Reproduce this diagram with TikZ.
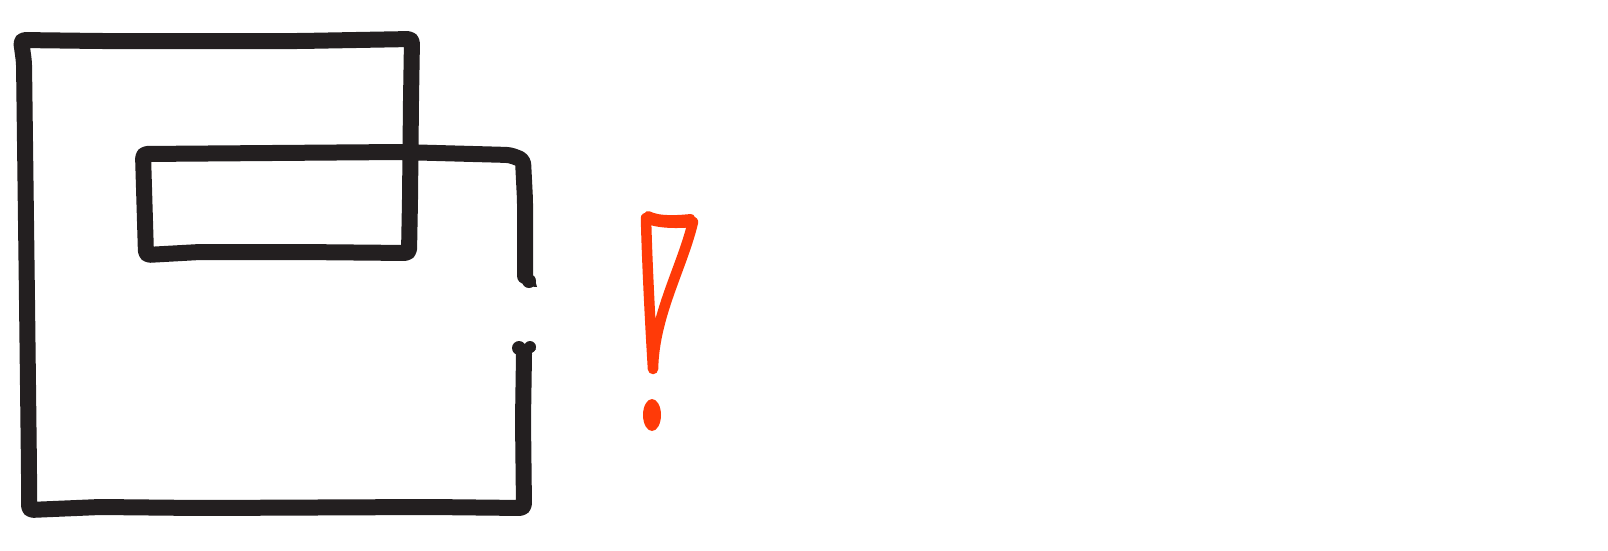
\documentclass[tikz,border=0pt]{standalone}
\definecolor{ink}{RGB}{35,31,32}
\definecolor{alert}{RGB}{255,58,8}
\tikzset{
  inkline/.style={draw=ink, line width=16pt, line join=round, line cap=round, rounded corners=4pt},
  alertline/.style={draw=alert, line width=10.5pt, line join=round, line cap=round}
}
\begin{document}
\begin{tikzpicture}[x=1pt,y=-1pt]
\useasboundingbox (0,0) rectangle (1608,550);
% main loop
\coordinate (gapTop) at (525,276);
\coordinate (gapBot) at (524,354);
\draw[inkline] (gapTop) -- (525,200) -- (523,160) -- (510,155) -- (400,152) -- (143,154)
  -- (146,255) -- (200,252) -- (300,252) -- (409,253)
  -- (410,200) -- (411,100) -- (412,39)
  -- (300,41) -- (100,41) -- (21,40)
  -- (24,62) -- (27,300) -- (29,470) -- (29,510)
  -- (100,507) -- (200,508) -- (430,507) -- (524,508)
  -- (523,420) -- (gapBot);
% brush ends
\fill[ink] (529,281) circle [radius=7];
\fill[ink] (520,278) -- (534,276) -- (537,287) -- (526,286) -- cycle;
\fill[ink] (519,348) circle [radius=7];
\fill[ink] (530,347) circle [radius=6];
\fill[ink] (513,350) -- (536,349) -- (524,360) -- cycle;
% exclamation mark
\draw[alertline] (646,218) .. controls (660,224) and (680,223) .. (693,222)
  .. controls (682,268) and (654,315) .. (653,369)
  .. controls (650,320) and (647,260) .. (646,218) -- cycle;
\draw[alert, line width=8pt, line cap=round] (648,215) .. controls (660,221) and (680,219) .. (691,218);
\fill[alert] (652,415) ellipse [x radius=9, y radius=16];
\end{tikzpicture}
\end{document}
